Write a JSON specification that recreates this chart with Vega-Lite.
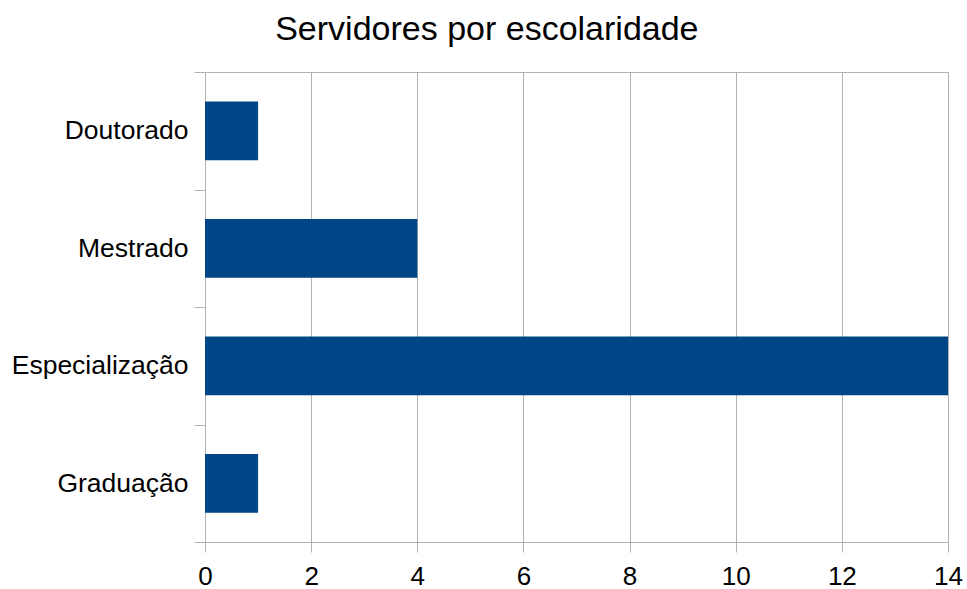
{
  "$schema": "https://vega.github.io/schema/vega-lite/v6.json",
  "autosize": {"type": "none"},
  "padding": {"left": 205, "top": 72, "right": 19, "bottom": 47},
  "width": 743,
  "height": 470,
  "background": "white",
  "title": {
    "text": "Servidores por escolaridade",
    "font": "Liberation Sans",
    "fontSize": 34,
    "fontWeight": "normal",
    "color": "#000000",
    "anchor": "middle",
    "frame": "bounds",
    "offset": 12
  },
  "data": {
    "values": [
      {"escolaridade": "Doutorado", "servidores": 1},
      {"escolaridade": "Mestrado", "servidores": 4},
      {"escolaridade": "Especialização", "servidores": 14},
      {"escolaridade": "Graduação", "servidores": 1}
    ]
  },
  "mark": {"type": "bar", "color": "#004586", "height": {"band": 0.5}},
  "encoding": {
    "y": {
      "field": "escolaridade",
      "type": "nominal",
      "sort": ["Doutorado", "Mestrado", "Especialização", "Graduação"],
      "scale": {"paddingInner": 0, "paddingOuter": 0},
      "axis": {
        "title": null,
        "tickBand": "extent",
        "grid": false,
        "ticks": true,
        "tickSize": 11,
        "tickColor": "#b3b3b3",
        "domainColor": "#b3b3b3",
        "labelFont": "Liberation Sans",
        "labelFontSize": 26.5,
        "labelColor": "#000000",
        "labelPadding": 6
      }
    },
    "x": {
      "field": "servidores",
      "type": "quantitative",
      "scale": {"domain": [0, 14], "nice": false},
      "axis": {
        "title": null,
        "values": [0, 2, 4, 6, 8, 10, 12, 14],
        "grid": true,
        "gridColor": "#b3b3b3",
        "tickColor": "#b3b3b3",
        "domainColor": "#b3b3b3",
        "tickSize": 10,
        "labelFont": "Liberation Sans",
        "labelFontSize": 26,
        "labelColor": "#000000",
        "labelPadding": 11,
        "labelFlush": false
      }
    }
  },
  "config": {
    "view": {"stroke": "#b3b3b3"},
    "axis": {"gridOpacity": 1, "domainWidth": 1, "tickWidth": 1, "gridWidth": 1}
  }
}
